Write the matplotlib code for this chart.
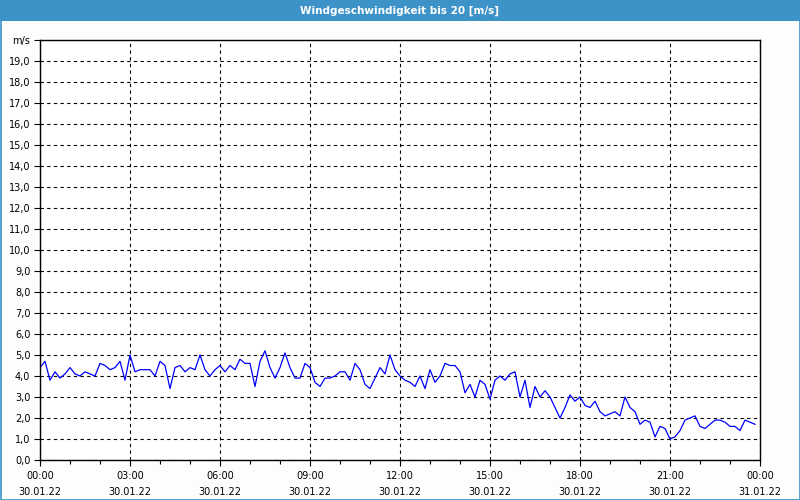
import matplotlib.pyplot as plt
import numpy as np
from matplotlib.patches import Rectangle
from matplotlib.ticker import MultipleLocator, FuncFormatter

# Messwerte alle 10 Minuten, 30.01.22 00:00 bis 23:50
wind = [
    4.4, 4.7, 3.8, 4.2, 3.9, 4.1, 4.4, 4.1, 4.0, 4.2, 4.1, 4.0,
    4.6, 4.5, 4.3, 4.4, 4.7, 3.8, 5.0, 4.2, 4.3, 4.3, 4.3, 4.0,
    4.7, 4.5, 3.4, 4.4, 4.5, 4.2, 4.4, 4.3, 5.0, 4.3, 4.0, 4.3,
    4.5, 4.2, 4.5, 4.3, 4.8, 4.6, 4.6, 3.5, 4.7, 5.2, 4.4, 3.9,
    4.4, 5.1, 4.4, 3.9, 3.9, 4.6, 4.4, 3.7, 3.5, 3.9, 3.9, 4.0,
    4.2, 4.2, 3.8, 4.6, 4.3, 3.6, 3.4, 3.9, 4.4, 4.1, 5.0, 4.3,
    4.0, 3.8, 3.7, 3.5, 4.0, 3.4, 4.3, 3.7, 4.0, 4.6, 4.5, 4.5,
    4.2, 3.2, 3.6, 3.0, 3.8, 3.6, 2.9, 3.8, 4.0, 3.8, 4.1, 4.2,
    3.0, 3.8, 2.5, 3.5, 3.0, 3.3, 3.0, 2.5, 2.0, 2.5, 3.1, 2.8,
    3.0, 2.6, 2.5, 2.8, 2.3, 2.1, 2.2, 2.3, 2.1, 3.0, 2.5, 2.3,
    1.7, 1.9, 1.8, 1.1, 1.6, 1.5, 1.0, 1.1, 1.4, 1.9, 2.0, 2.1,
    1.6, 1.5, 1.7, 1.9, 1.9, 1.8, 1.6, 1.6, 1.4, 1.9, 1.8, 1.7,
]
hours = np.arange(len(wind)) / 6.0

x_ticks = [0, 3, 6, 9, 12, 15, 18, 21, 24]
x_labels = ['00:00\n30.01.22', '03:00\n30.01.22', '06:00\n30.01.22',
            '09:00\n30.01.22', '12:00\n30.01.22', '15:00\n30.01.22',
            '18:00\n30.01.22', '21:00\n30.01.22', '00:00\n31.01.22']

title_blue = '#3d93c8'

fig = plt.figure(figsize=(8, 5), dpi=100)
fig.patch.set_facecolor('#fcfdfc')

# Titelleiste und Rahmen
fig.patches.append(Rectangle((0, 1 - 21 / 500), 1, 21 / 500, transform=fig.transFigure,
                             facecolor=title_blue, edgecolor='none', zorder=0))
fig.patches.append(Rectangle((0.5 / 800, 0.5 / 500), 799 / 800, 499 / 500,
                             transform=fig.transFigure, facecolor='none',
                             edgecolor=title_blue, linewidth=1.2, zorder=1))
fig.text(0.5, 1 - 10.5 / 500, 'Windgeschwindigkeit bis 20 [m/s]', color='white',
         ha='center', va='center', fontsize=7.5, fontweight='bold')

ax = fig.add_axes([40 / 800, 40 / 500, 720 / 800, 420 / 500])
ax.set_facecolor('white')
ax.plot(hours, wind, color='#0000ff', linewidth=0.9)

ax.set_xlim(0, 24)
ax.set_ylim(0, 20)
ax.set_xticks(x_ticks)
ax.set_xticklabels(x_labels, linespacing=1.75)
ax.xaxis.set_minor_locator(MultipleLocator(1))
ax.yaxis.set_major_locator(MultipleLocator(1))


def y_fmt(v, pos):
    if round(v) == 20:
        return 'm/s'
    return f'{v:.1f}'.replace('.', ',')


ax.yaxis.set_major_formatter(FuncFormatter(y_fmt))
ax.tick_params(axis='both', which='major', labelsize=7, length=4, width=0.8,
               direction='out', color='black', pad=3)
ax.tick_params(axis='x', which='minor', length=3, width=0.8)
ax.tick_params(axis='x', pad=4)

ax.grid(True, which='major', color='black', linestyle=(0, (3, 3)), linewidth=0.8)
for s in ax.spines.values():
    s.set_color('black')
    s.set_linewidth(1.0)

fig.savefig('out.png', dpi=100, facecolor=fig.get_facecolor())
